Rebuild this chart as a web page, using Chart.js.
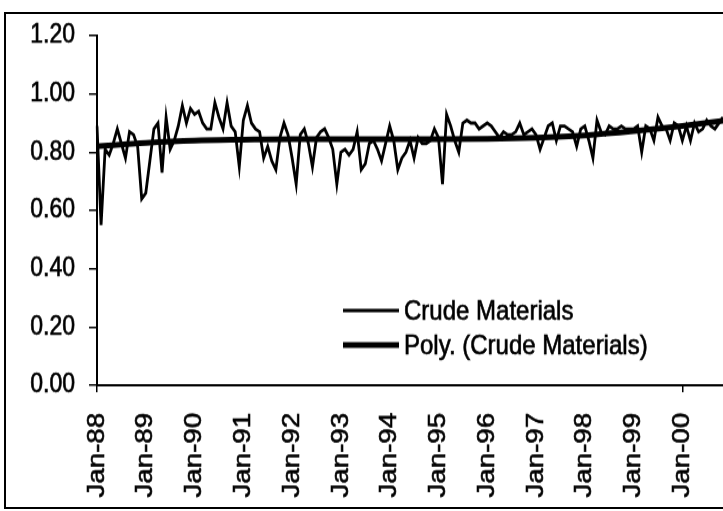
<!DOCTYPE html>
<html>
<head>
<meta charset="utf-8">
<script src="https://cdn.jsdelivr.net/npm/chart.js@4.4.0/dist/chart.umd.min.js"></script>
<style>
html, body { margin: 0; padding: 0; background: #fff; overflow: hidden; }
#wrap { position: relative; width: 723px; height: 511px; overflow: hidden; }
#frame { position: absolute; left: 4px; top: 12px; width: 760px; height: 497px; border: 2px solid #000; box-sizing: border-box; }
#chart { position: absolute; left: 0; top: 0; transform-origin: 0 0; transform: scaleY(1.15); }
</style>
</head>
<body>
<div id="wrap">
  <div id="frame"></div>
  <canvas id="chart" width="723" height="444"></canvas>
</div>
<script>
// monthly index, Jan-88 .. Nov-00
const monthNames = ['Jan', 'Feb', 'Mar', 'Apr', 'May', 'Jun', 'Jul', 'Aug', 'Sep', 'Oct', 'Nov', 'Dec'];
const years = ['88', '89', '90', '91', '92', '93', '94', '95', '96', '97', '98', '99', '00'];
const monthCount = 155;

const crude = [
  0.89, 0.55, 0.81, 0.79, 0.83, 0.88, 0.83, 0.78, 0.87, 0.86, 0.82, 0.64,
  0.66, 0.77, 0.88, 0.90, 0.73, 0.92, 0.81, 0.84, 0.89, 0.96, 0.90, 0.95,
  0.93, 0.94, 0.90, 0.88, 0.88, 0.97, 0.92, 0.88, 0.97, 0.89, 0.87, 0.75,
  0.91, 0.96, 0.90, 0.88, 0.87, 0.78, 0.82, 0.77, 0.74, 0.85, 0.90, 0.86,
  0.78, 0.69, 0.86, 0.88, 0.83, 0.75, 0.85, 0.87, 0.88, 0.85, 0.81, 0.69,
  0.80, 0.81, 0.79, 0.81, 0.87, 0.74, 0.76, 0.83, 0.84, 0.81, 0.77, 0.83,
  0.89, 0.84, 0.74, 0.78, 0.80, 0.84, 0.78, 0.85, 0.83, 0.83, 0.84, 0.88,
  0.85, 0.69, 0.93, 0.89, 0.84, 0.80, 0.90, 0.91, 0.90, 0.90, 0.88, 0.89,
  0.90, 0.89, 0.87, 0.85, 0.87, 0.86, 0.86, 0.87, 0.90, 0.86, 0.87, 0.88,
  0.86, 0.81, 0.85, 0.89, 0.90, 0.84, 0.89, 0.89, 0.88, 0.87, 0.82, 0.88,
  0.89, 0.84, 0.78, 0.91, 0.87, 0.86, 0.89, 0.88, 0.88, 0.89, 0.88, 0.88,
  0.88, 0.89, 0.80, 0.89, 0.88, 0.84, 0.92, 0.89, 0.88, 0.84, 0.90, 0.89,
  0.84, 0.89, 0.84, 0.90, 0.87, 0.88, 0.91, 0.89, 0.88, 0.90, 0.92
];

// polynomial trend, read at each January plus the last month
const trendJan = [0.820, 0.832, 0.840, 0.843, 0.845, 0.845, 0.845, 0.845, 0.846, 0.850, 0.858, 0.872, 0.890];
const trendEnd = 0.908;

const yTicks = [0, 0.2, 0.4, 0.6, 0.8, 1.0, 1.2];

const labels = [];
for (let i = 0; i < monthCount; i++) {
  labels.push(monthNames[i % 12] + '-' + years[Math.floor(i / 12)]);
}
const trend = new Array(monthCount).fill(null);
trendJan.forEach((v, k) => { trend[k * 12] = v; });
trend[monthCount - 1] = trendEnd;

const fontFamily = '"Liberation Sans", Arial, sans-serif';
Chart.defaults.font.family = fontFamily;
Chart.defaults.color = '#000';

// legend sits inside the plot, two rows
const insideLegend = {
  id: 'insideLegend',
  afterDraw(chart) {
    const ctx = chart.ctx;
    const rows = [270, 300];
    ctx.save();
    ctx.font = '24px ' + fontFamily;
    ctx.textBaseline = 'middle';
    ctx.fillStyle = '#000';
    chart.data.datasets.forEach((ds, i) => {
      const y = rows[i];
      ctx.beginPath();
      ctx.strokeStyle = ds.borderColor;
      ctx.lineWidth = ds.borderWidth;
      ctx.moveTo(343, y);
      ctx.lineTo(399, y);
      ctx.stroke();
      ctx.lineWidth = 0.6;
      ctx.strokeText(ds.label, 404, y + 1);
      ctx.fillText(ds.label, 404, y + 1);
    });
    ctx.restore();
  }
};

new Chart(document.getElementById('chart'), {
  type: 'line',
  data: {
    labels: labels,
    datasets: [
      {
        label: 'Crude Materials',
        data: crude,
        borderColor: '#000',
        borderWidth: 2.8,
        pointRadius: 0,
        tension: 0
      },
      {
        label: 'Poly. (Crude Materials)',
        data: trend,
        borderColor: '#000',
        borderWidth: 5,
        pointRadius: 0,
        spanGaps: true,
        cubicInterpolationMode: 'monotone'
      }
    ]
  },
  options: {
    responsive: false,
    animation: false,
    devicePixelRatio: 1,
    layout: { padding: { top: 31, right: 0, bottom: 0, left: 0 } },
    plugins: {
      legend: { display: false },
      tooltip: { enabled: false }
    },
    scales: {
      x: {
        ticks: {
          autoSkip: false,
          minRotation: 90,
          maxRotation: 90,
          padding: 18,
          font: { size: 24 },
          textStrokeColor: '#000',
          textStrokeWidth: 0.6,
          callback: function (v, i) { return i % 12 === 0 ? this.getLabelForValue(v) : null; }
        },
        grid: {
          drawOnChartArea: false,
          tickLength: 6,
          lineWidth: 1.5,
          tickColor: c => (c.index % 12 === 0 ? '#000' : 'rgba(0,0,0,0)')
        },
        border: { color: '#000', width: 2 },
        afterFit: s => { s.height = 109; s.paddingLeft = 0; s.paddingRight = 0; }
      },
      y: {
        min: 0,
        max: 1.2,
        afterBuildTicks: s => { s.ticks = yTicks.map(v => ({ value: v })); },
        ticks: {
          padding: 14,
          font: { size: 23 },
          textStrokeColor: '#000',
          textStrokeWidth: 0.6,
          callback: v => v.toFixed(2)
        },
        grid: { drawOnChartArea: false, tickLength: 8, lineWidth: 1.5, color: '#000' },
        border: { color: '#000', width: 2 },
        afterFit: s => { s.width = 97; }
      }
    }
  },
  plugins: [insideLegend]
});
</script>
</body>
</html>
